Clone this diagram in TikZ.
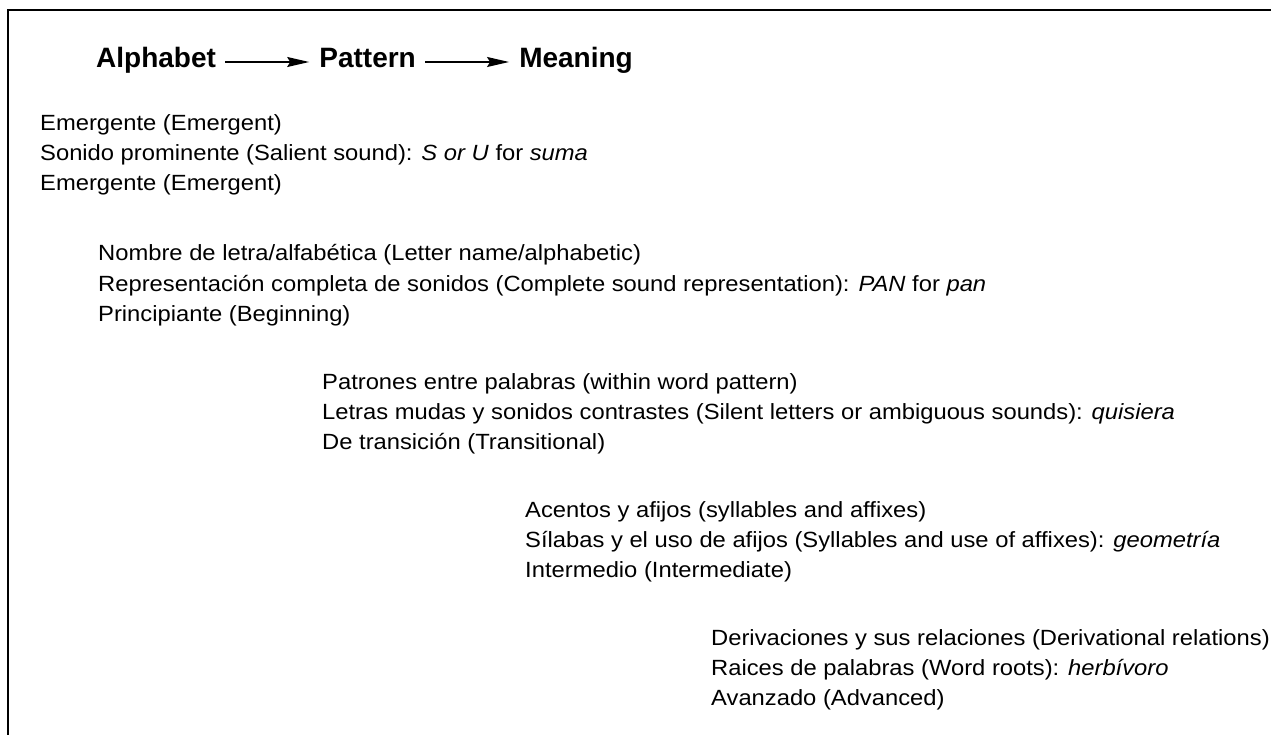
\documentclass[tikz,border=0pt]{standalone}
\usepackage{fontspec}
\setmainfont{Liberation Sans}
\newfontfamily\bodyfont[FakeStretch=1.08]{Liberation Sans}
\usetikzlibrary{arrows.meta}
\tikzset{
  ln/.style={anchor=base west, inner sep=0pt, font=\bodyfont\fontsize{22}{26}\selectfont},
  ttl/.style={anchor=base west, inner sep=0pt, font=\fontsize{28}{32}\selectfont\bfseries},
  arr/.style={line width=1.4pt, -{Stealth[length=22pt,width=10pt,inset=3pt]}},
  frame/.style={line width=2pt}
}
\begin{document}
\begin{tikzpicture}[x=1pt,y=-1pt]
\useasboundingbox (0,0) rectangle (1271,735);
\coordinate (fc) at (8,10);
\coordinate (fr) at (1271,10);
\coordinate (fb) at (8,735);
\draw[frame] (fr) -- (fc) -- (fb);
% title
\node[ttl] (al) at (96,68) {Alphabet};
\node[ttl] (pa) at ([xshift=103pt]al.base east) {Pattern};
\node[ttl] (me) at ([xshift=103pt]pa.base east) {Meaning};
\draw[arr] ([xshift=9pt,yshift=6pt]al.base east) -- ([xshift=-10pt,yshift=6pt]pa.base west);
\draw[arr] ([xshift=9pt,yshift=6pt]pa.base east) -- ([xshift=-10pt,yshift=6pt]me.base west);
% group 1
\node[ln] (a1) at (40,131) {Emergente (Emergent)};
\node[ln] (a2) at (40,161) {Sonido prominente (Salient sound): \textit{S or U} for \textit{suma}};
\node[ln] (a3) at (40,191) {Emergente (Emergent)};
% group 2
\node[ln] (b1) at (98,261) {Nombre de letra/alfabética (Letter name/alphabetic)};
\node[ln] (b2) at (98,291) {Representación completa de sonidos (Complete sound representation): \textit{PAN} for \textit{pan}};
\node[ln] (b3) at (98,321) {Principiante (Beginning)};
% group 3
\node[ln] (c1) at (322,389) {Patrones entre palabras (within word pattern)};
\node[ln] (c2) at (322,419) {Letras mudas y sonidos contrastes (Silent letters or ambiguous sounds): \textit{quisiera}};
\node[ln] (c3) at (322,449) {De transición (Transitional)};
% group 4
\node[ln] (d1) at (525,517) {Acentos y afijos (syllables and affixes)};
\node[ln] (d2) at (525,547) {Sílabas y el uso de afijos (Syllables and use of affixes): \textit{geometría}};
\node[ln] (d3) at (525,577) {Intermedio (Intermediate)};
% group 5
\node[ln] (e1) at (711,645) {Derivaciones y sus relaciones (Derivational relations)};
\node[ln] (e2) at (711,675) {Raices de palabras (Word roots): \textit{herbívoro}};
\node[ln] (e3) at (711,705) {Avanzado (Advanced)};
\end{tikzpicture}
\end{document}
